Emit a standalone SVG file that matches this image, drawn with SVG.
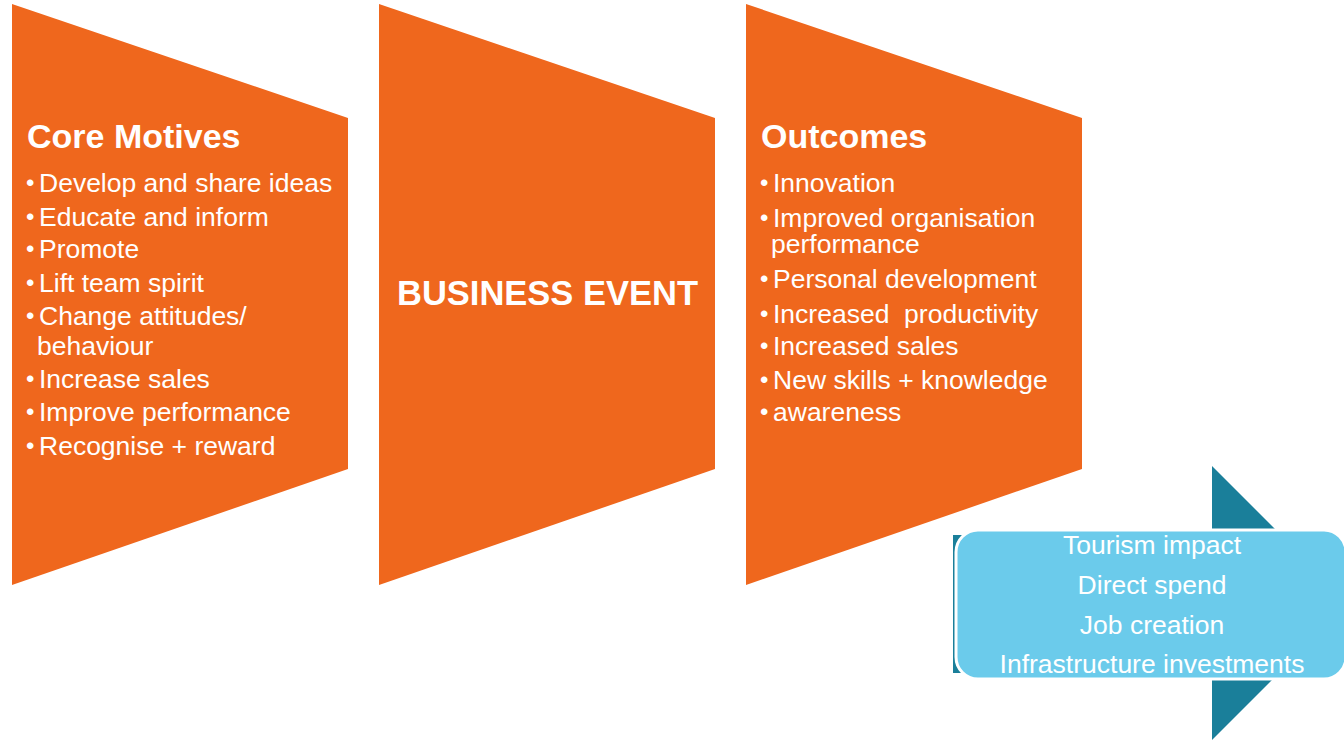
<svg xmlns="http://www.w3.org/2000/svg" width="1344" height="741" viewBox="0 0 1344 741">
  <style>
    .stage { fill: #EF671D; }
    .txt { font-family: "Liberation Sans", Arial, sans-serif; fill: #FFFFFF; }
    .head { font-size: 34px; font-weight: bold; }
    .item { font-size: 26.5px; }
    .center { font-size: 26.5px; text-anchor: middle; }
    .title { font-size: 34.5px; font-weight: bold; }
    .dot { font-size: 24px; }
  </style>
  <defs>
    <!-- one stage panel: tall edge on the left, sloping to a shorter right edge -->
    <polygon id="panel" points="0,4 336,118 336,469 0,585"/>
  </defs>

  <rect width="1344" height="741" fill="#FFFFFF"/>

  <g id="core-motives">
    <use href="#panel" x="12" class="stage"/>
    <text class="txt head" x="27" y="148">Core Motives</text>
    <g class="txt dot">
      <text x="26" y="191">•</text>
      <text x="26" y="225">•</text>
      <text x="26" y="257">•</text>
      <text x="26" y="291">•</text>
      <text x="26" y="324">•</text>
      <text x="26" y="387">•</text>
      <text x="26" y="420">•</text>
      <text x="26" y="454">•</text>
    </g>
    <g class="txt item">
      <text x="39" y="192">Develop and share ideas</text>
      <text x="39" y="226">Educate and inform</text>
      <text x="39" y="258">Promote</text>
      <text x="39" y="292">Lift team spirit</text>
      <text x="39" y="325">Change attitudes/</text>
      <text x="37" y="355">behaviour</text>
      <text x="39" y="388">Increase sales</text>
      <text x="39" y="421">Improve performance</text>
      <text x="39" y="455">Recognise + reward</text>
    </g>
  </g>

  <g id="business-event">
    <use href="#panel" x="379" class="stage"/>
    <text class="txt title" x="397" y="305">BUSINESS EVENT</text>
  </g>

  <g id="outcomes">
    <use href="#panel" x="746" class="stage"/>
    <text class="txt head" x="761" y="148">Outcomes</text>
    <g class="txt dot">
      <text x="760" y="191">•</text>
      <text x="760" y="226">•</text>
      <text x="760" y="287">•</text>
      <text x="760" y="322">•</text>
      <text x="760" y="354">•</text>
      <text x="760" y="388">•</text>
      <text x="760" y="420">•</text>
    </g>
    <g class="txt item">
      <text x="773" y="192">Innovation</text>
      <text x="773" y="227">Improved organisation</text>
      <text x="771" y="253">performance</text>
      <text x="773" y="288">Personal development</text>
      <text x="773" y="323" xml:space="preserve">Increased  productivity</text>
      <text x="773" y="355">Increased sales</text>
      <text x="773" y="389">New skills + knowledge</text>
      <text x="773" y="421">awareness</text>
    </g>
  </g>

  <g id="tourism-impact">
    <!-- right-pointing block arrow behind the impact box -->
    <polygon points="953,535 1212,535 1212,466 1349,603 1212,740 1212,673 953,673" fill="#1A7F9A"/>
    <rect x="956" y="530" width="390" height="149" rx="22" ry="22" fill="#6BCBEB" stroke="#FFFFFF" stroke-width="3"/>
    <g class="txt center">
      <text x="1152" y="554">Tourism impact</text>
      <text x="1152" y="594">Direct spend</text>
      <text x="1152" y="634">Job creation</text>
      <text x="1152" y="673">Infrastructure investments</text>
    </g>
  </g>

  <g id="connectors"/>
</svg>
